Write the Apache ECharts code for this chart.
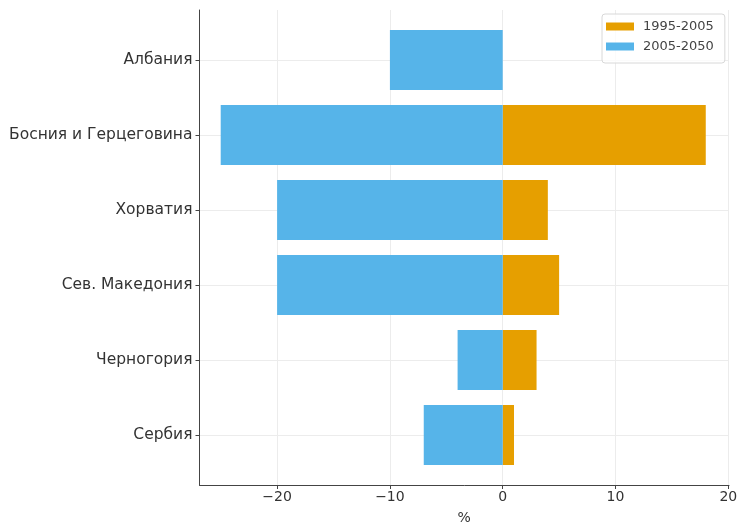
<!DOCTYPE html>
<html>
<head>
<meta charset="utf-8">
<script src="https://cdn.jsdelivr.net/npm/echarts@6/dist/echarts.min.js"></script>
<style>
html,body{margin:0;padding:0;background:#fff;}
#chart{width:737px;height:523px;}
</style>
</head>
<body>
<div id="chart"></div>
<script>
const categories = ['Албания', 'Босния и Герцеговина', 'Хорватия', 'Сев. Македония', 'Черногория', 'Сербия'];
const series1995_2005 = [0, 18, 4, 5, 3, 1];
const series2005_2050 = [-10, -25, -20, -20, -4, -7];
const seriesNames = ['1995-2005', '2005-2050'];
const xTicks = [-20, -10, 0, 10, 20];

const XMIN = -26.88, XMAX = 20.06;
const FONT = 'DejaVu Sans';
const chart = echarts.init(document.getElementById('chart'), null, {renderer: 'canvas'});

chart.setOption({
  animation: false,
  backgroundColor: '#fff',
  textStyle: {fontFamily: FONT},
  grid: [
    {left: 199.5, right: 8, top: 10, bottom: 38, outerBoundsMode: 'none', containLabel: false},
    {left: 199.5, right: 8, top: 22.5, bottom: 50.5, outerBoundsMode: 'none', containLabel: false}
  ],
  legend: {
    orient: 'vertical',
    left: 602,
    top: 14,
    padding: [6, 11, 10, 4],
    itemGap: 7,
    itemWidth: 28,
    itemHeight: 8,
    icon: 'rect',
    borderColor: '#d8d8d8',
    borderWidth: 1,
    borderRadius: 3,
    backgroundColor: 'rgba(255,255,255,0.8)',
    textStyle: {fontFamily: FONT, fontSize: 13, color: '#444', padding: [0, 0, 0, 4]},
    data: seriesNames
  },
  xAxis: [
    {
      gridIndex: 0,
      type: 'value',
      min: XMIN,
      max: XMAX,
      name: '%',
      nameLocation: 'middle',
      nameGap: 26,
      nameTextStyle: {fontFamily: FONT, fontSize: 14, color: '#333'},
      axisLine: {show: true, onZero: false, lineStyle: {color: '#444', width: 1}},
      axisTick: {show: true, length: 4, lineStyle: {color: '#444'}, customValues: xTicks},
      axisLabel: {
        show: true, margin: 5, fontFamily: FONT, fontSize: 14, color: '#333',
        customValues: xTicks,
        formatter: v => String(v).replace('-', '\u2212')
      },
      splitLine: {show: true, lineStyle: {color: '#ececec', width: 1}, customValues: xTicks}
    },
    {
      gridIndex: 1,
      type: 'value',
      min: XMIN,
      max: XMAX,
      show: false
    }
  ],
  yAxis: [
    {
      gridIndex: 0,
      type: 'value',
      min: 0,
      max: 1,
      axisLine: {show: true, onZero: false, lineStyle: {color: '#444', width: 1}},
      axisTick: {show: false},
      axisLabel: {show: false},
      splitLine: {show: false}
    },
    {
      gridIndex: 1,
      type: 'category',
      inverse: true,
      data: categories,
      axisLine: {show: false, onZero: false},
      axisTick: {show: true, alignWithLabel: true, length: 4, lineStyle: {color: '#444'}},
      axisLabel: {fontFamily: FONT, fontSize: 15.5, color: '#333', margin: 7},
      splitLine: {show: true, alignWithLabel: true, lineStyle: {color: '#ececec', width: 1}}
    }
  ],
  series: [
    {
      name: seriesNames[0],
      type: 'bar',
      xAxisIndex: 1,
      yAxisIndex: 1,
      data: series1995_2005,
      barWidth: '80%',
      barGap: '-100%',
      itemStyle: {color: '#E69F00'}
    },
    {
      name: seriesNames[1],
      type: 'bar',
      xAxisIndex: 1,
      yAxisIndex: 1,
      data: series2005_2050,
      barWidth: '80%',
      barGap: '-100%',
      itemStyle: {color: '#56B4E9'}
    }
  ]
});
</script>
</body>
</html>
